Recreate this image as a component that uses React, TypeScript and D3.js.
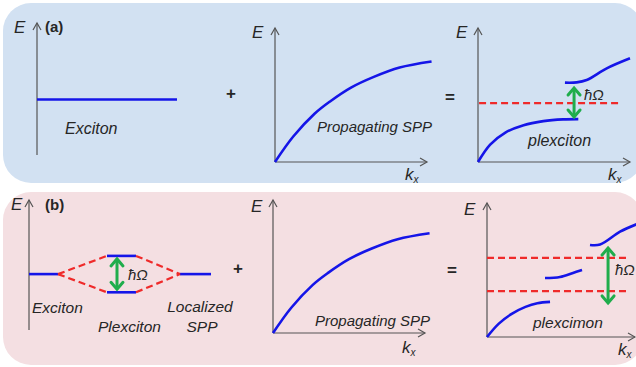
import React from 'react';
import * as d3 from 'd3';

// dispersion curves in arbitrary units (k: 0..10, E: 0..10)
const sppK = [0, 1.2, 2.6, 3.6, 5.0, 6.5, 8.2, 10.3];
const sppE = [0, 1.9, 3.6, 4.5, 5.55, 6.35, 7.05, 7.5];

const plexLowerK = [0, 0.8, 1.8, 3.0, 4.3, 5.6, 6.6];
const plexLowerE = [0, 1.3, 2.2, 2.75, 3.05, 3.18, 3.2];
const plexUpperK = [5.72, 6.49, 7.15, 8.47, 10.0];
const plexUpperE = [5.92, 5.94, 6.12, 6.99, 7.74];
const excitonLevelA = 4.4;
const gapA = [3.36, 5.52];
const gapAk = 6.32;

// panel (b) energy levels
const levelName = ['Exciton', 'Plexciton+', 'Plexciton-', 'Localized SPP'];
const levelX0 = [0, 3.9, 3.9, 7.55];
const levelX1 = [1.45, 5.35, 5.35, 9.1];
const levelE = [4.3, 5.7, 2.9, 4.3];

const pmLowerK = [0, 0.8, 1.7, 2.6, 3.4, 4.26];
const pmLowerE = [0, 1.0, 1.75, 2.25, 2.52, 2.62];
const pmMidK = [3.92, 4.93, 5.81, 6.42];
const pmMidE = [4.4, 4.48, 4.78, 5.0];
const pmUpperK = [6.96, 7.64, 8.99, 10.1];
const pmUpperE = [6.87, 6.9, 7.86, 8.41];
const pmLevels = [5.9, 3.43];
const gapB = [2.54, 6.64];
const gapBk = 8.18;

const FONT = '"Liberation Sans", Arial, sans-serif';
const BLUE = '#1515e8';
const RED = '#ef2a2a';
const GREEN = '#20ad4c';
const AXIS = '#555';
const TXT = '#262626';

type Frame = { ox: number; oy: number; w: number; h: number };

const scales = (f: Frame) => ({
  x: d3.scaleLinear().domain([0, 10]).range([f.ox, f.ox + f.w]),
  y: d3.scaleLinear().domain([0, 10]).range([f.oy, f.oy - f.h]),
});

const curve = (ks: number[], es: number[], f: Frame) => {
  const { x, y } = scales(f);
  const line = d3.line<number>().x((_, i) => x(ks[i])).y((_, i) => y(es[i])).curve(d3.curveCatmullRom.alpha(0.5));
  return line(ks) || '';
};

const Axes = ({ f, xAxis = true }: { f: Frame; xAxis?: boolean }) => {
  const t = f.oy - f.h;
  const xe = f.ox + f.w;
  return (
    <g stroke={AXIS} strokeWidth={1.2} fill="none">
      <line x1={f.ox} y1={f.oy} x2={f.ox} y2={t} />
      <polyline points={`${f.ox - 4},${t + 7} ${f.ox},${t} ${f.ox + 4},${t + 7}`} />
      {xAxis && (
        <>
          <line x1={f.ox} y1={f.oy} x2={xe} y2={f.oy} />
          <polyline points={`${xe - 7},${f.oy - 4} ${xe},${f.oy} ${xe - 7},${f.oy + 4}`} />
        </>
      )}
    </g>
  );
};

const GapArrow = ({ x, y1, y2 }: { x: number; y1: number; y2: number }) => (
  <g stroke={GREEN} strokeWidth={3} fill="none" strokeLinecap="round">
    <line x1={x} y1={y1 + 1} x2={x} y2={y2 - 1} />
    <polyline points={`${x - 6},${y1 + 7} ${x},${y1} ${x + 6},${y1 + 7}`} />
    <polyline points={`${x - 6},${y2 - 7} ${x},${y2} ${x + 6},${y2 - 7}`} />
  </g>
);

const Kx = ({ x, y }: { x: number; y: number }) => (
  <text x={x} y={y} fontSize={17} fontStyle="italic" fill={TXT}>
    k<tspan fontSize={10} dy={3}>x</tspan>
  </text>
);

const Lbl = ({ x, y, s, size = 15.5, anchor = 'start' }: { x: number; y: number; s: string; size?: number; anchor?: string }) => (
  <text x={x} y={y} fontSize={size} fontStyle="italic" fill={TXT} textAnchor={anchor as any}>{s}</text>
);

const Eax = ({ x, y }: { x: number; y: number }) => (
  <text x={x} y={y} fontSize={17} fontStyle="italic" fill={TXT}>E</text>
);

export default function App() {
  const aL: Frame = { ox: 37, oy: 155, w: 153, h: 132 };
  const aM: Frame = { ox: 275, oy: 162, w: 152, h: 134 };
  const aR: Frame = { ox: 478, oy: 162, w: 152, h: 134 };
  const bL: Frame = { ox: 29, oy: 330, w: 200, h: 130 };
  const bM: Frame = { ox: 273, oy: 333, w: 152, h: 133 };
  const bR: Frame = { ox: 487, oy: 337, w: 148, h: 134 };

  const sAL = scales(aL);
  const sAR = scales(aR);
  const sBL = scales(bL);
  const sBR = scales(bR);

  return (
    <svg width={636} height={367} style={{ position: 'absolute', left: 0, top: 0 }} fontFamily={FONT}>
      <rect x={3} y={3} width={640} height={180} rx={28} fill="#d2e1f2" />
      <rect x={3} y={192} width={640} height={173} rx={28} fill="#f4dfe2" />

      {/* (a) left: exciton */}
      <Axes f={aL} xAxis={false} />
      <line x1={sAL.x(0)} x2={sAL.x(9.15)} y1={sAL.y(4.2)} y2={sAL.y(4.2)} stroke={BLUE} strokeWidth={2.6} />
      <Eax x={14} y={33} />
      <text x={45} y={32} fontSize={15} fontWeight="bold" fill={TXT}>(a)</text>
      <Lbl x={65} y={134} s="Exciton" size={16} />
      <text x={231} y={99} fontSize={17} fontWeight="bold" fill={TXT} textAnchor="middle">+</text>

      {/* (a) middle: propagating SPP */}
      <Axes f={aM} />
      <path d={curve(sppK, sppE, aM)} stroke={BLUE} strokeWidth={2.6} fill="none" />
      <Eax x={252} y={38} />
      <Kx x={405} y={180} />
      <Lbl x={317} y={132} s="Propagating SPP" size={15} />
      <text x={450} y={103} fontSize={17} fontWeight="bold" fill={TXT} textAnchor="middle">=</text>

      {/* (a) right: plexciton */}
      <Axes f={aR} />
      <line x1={sAR.x(0.07)} x2={sAR.x(9.34)} y1={sAR.y(excitonLevelA)} y2={sAR.y(excitonLevelA)}
        stroke={RED} strokeWidth={2.2} strokeDasharray="7,4" />
      <path d={curve(plexLowerK, plexLowerE, aR)} stroke={BLUE} strokeWidth={2.6} fill="none" />
      <path d={curve(plexUpperK, plexUpperE, aR)} stroke={BLUE} strokeWidth={2.6} fill="none" />
      <GapArrow x={sAR.x(gapAk)} y1={sAR.y(gapA[1])} y2={sAR.y(gapA[0])} />
      <Lbl x={584} y={100} s="ħΩ" size={15} />
      <Eax x={456} y={38} />
      <Kx x={608} y={180} />
      <Lbl x={528} y={146} s="plexciton" size={16} />

      {/* (b) left: localized coupling */}
      <Axes f={bL} xAxis={false} />
      {levelName.map((n, i) => (
        <line key={n} x1={sBL.x(levelX0[i])} x2={sBL.x(levelX1[i])} y1={sBL.y(levelE[i])} y2={sBL.y(levelE[i])}
          stroke={BLUE} strokeWidth={2.6} />
      ))}
      {[1, 2].map((j) => (
        <g key={j} stroke={RED} strokeWidth={2.2} strokeDasharray="7,4" fill="none">
          <line x1={sBL.x(levelX1[0])} y1={sBL.y(levelE[0])} x2={sBL.x(levelX0[j])} y2={sBL.y(levelE[j])} />
          <line x1={sBL.x(levelX1[j])} y1={sBL.y(levelE[j])} x2={sBL.x(levelX0[3])} y2={sBL.y(levelE[3])} />
        </g>
      ))}
      <GapArrow x={sBL.x(4.4)} y1={sBL.y(levelE[1]) + 3} y2={sBL.y(levelE[2]) - 3} />
      <Lbl x={128} y={280} s="ħΩ" size={15} />
      <Eax x={11} y={210} />
      <text x={45} y={210} fontSize={15} fontWeight="bold" fill={TXT}>(b)</text>
      <Lbl x={32} y={313} s="Exciton" />
      <Lbl x={98} y={332} s="Plexciton" />
      <Lbl x={200} y={312} s="Localized" anchor="middle" />
      <Lbl x={202} y={332} s="SPP" anchor="middle" />
      <text x={238} y={274} fontSize={17} fontWeight="bold" fill={TXT} textAnchor="middle">+</text>

      {/* (b) middle: propagating SPP */}
      <Axes f={bM} />
      <path d={curve(sppK, sppE, bM)} stroke={BLUE} strokeWidth={2.6} fill="none" />
      <Eax x={251} y={212} />
      <Kx x={402} y={353} />
      <Lbl x={315} y={326} s="Propagating SPP" size={15} />
      <text x={452} y={276} fontSize={17} fontWeight="bold" fill={TXT} textAnchor="middle">=</text>

      {/* (b) right: plexcimon */}
      <Axes f={bR} />
      {pmLevels.map((e) => (
        <line key={e} x1={sBR.x(0)} x2={sBR.x(9.46)} y1={sBR.y(e)} y2={sBR.y(e)}
          stroke={RED} strokeWidth={2.2} strokeDasharray="7,4" />
      ))}
      <path d={curve(pmLowerK, pmLowerE, bR)} stroke={BLUE} strokeWidth={2.6} fill="none" />
      <path d={curve(pmMidK, pmMidE, bR)} stroke={BLUE} strokeWidth={2.6} fill="none" />
      <path d={curve(pmUpperK, pmUpperE, bR)} stroke={BLUE} strokeWidth={2.6} fill="none" />
      <GapArrow x={sBR.x(gapBk)} y1={sBR.y(gapB[1])} y2={sBR.y(gapB[0])} />
      <Lbl x={615} y={275} s="ħΩ" size={15} />
      <Eax x={464} y={215} />
      <Kx x={618} y={355} />
      <Lbl x={533} y={328} s="plexcimon" />
    </svg>
  );
}
